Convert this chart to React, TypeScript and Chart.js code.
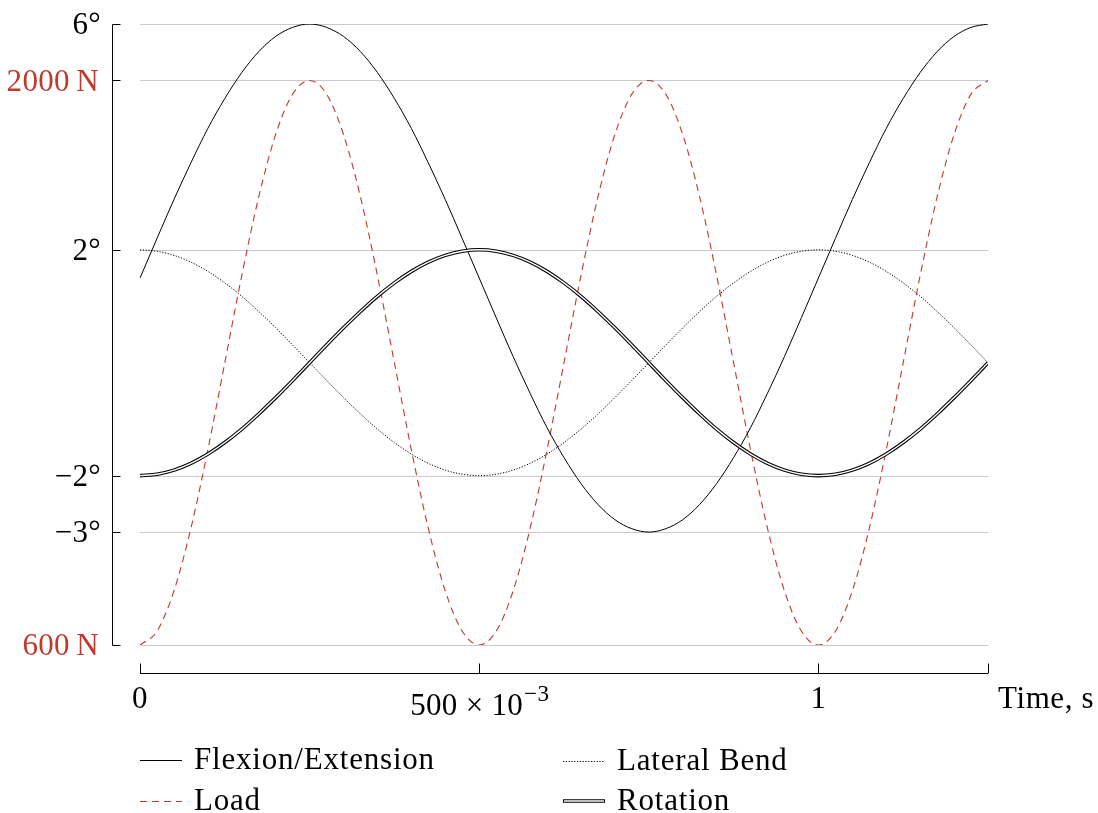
import React, { useEffect, useRef } from "react";
import { Chart, registerables } from "chart.js";
Chart.register(...registerables);

// ---- data ----
const timeS = [
  0, 0.025, 0.05, 0.075, 0.1, 0.125, 0.15, 0.175, 0.2, 0.225, 0.25,
  0.275, 0.3, 0.325, 0.35, 0.375, 0.4, 0.425, 0.45, 0.475, 0.5,
  0.525, 0.55, 0.575, 0.6, 0.625, 0.65, 0.675, 0.7, 0.725, 0.75,
  0.775, 0.8, 0.825, 0.85, 0.875, 0.9, 0.925, 0.95, 0.975, 1.0,
  1.025, 1.05, 1.075, 1.1, 1.125, 1.15, 1.175, 1.2, 1.225, 1.25,
];
const flexionDeg = [
  1.5, 2.2, 2.89, 3.54, 4.15, 4.68, 5.14, 5.51, 5.78, 5.94, 6.0,
  5.94, 5.78, 5.51, 5.14, 4.68, 4.15, 3.54, 2.89, 2.2, 1.5,
  0.8, 0.11, -0.54, -1.15, -1.68, -2.14, -2.51, -2.78, -2.94, -3.0,
  -2.94, -2.78, -2.51, -2.14, -1.68, -1.15, -0.54, 0.11, 0.8, 1.5,
  2.2, 2.89, 3.54, 4.15, 4.68, 5.14, 5.51, 5.78, 5.94, 6.0,
];
const lateralBendDeg = [
  2, 1.975, 1.902, 1.782, 1.618, 1.414, 1.176, 0.908, 0.618, 0.313, 0,
  -0.313, -0.618, -0.908, -1.176, -1.414, -1.618, -1.782, -1.902, -1.975, -2,
  -1.975, -1.902, -1.782, -1.618, -1.414, -1.176, -0.908, -0.618, -0.313, 0,
  0.313, 0.618, 0.908, 1.176, 1.414, 1.618, 1.782, 1.902, 1.975, 2,
  1.975, 1.902, 1.782, 1.618, 1.414, 1.176, 0.908, 0.618, 0.313, 0,
];
const rotationDeg = [
  -2, -1.975, -1.902, -1.782, -1.618, -1.414, -1.176, -0.908, -0.618, -0.313, 0,
  0.313, 0.618, 0.908, 1.176, 1.414, 1.618, 1.782, 1.902, 1.975, 2,
  1.975, 1.902, 1.782, 1.618, 1.414, 1.176, 0.908, 0.618, 0.313, 0,
  -0.313, -0.618, -0.908, -1.176, -1.414, -1.618, -1.782, -1.902, -1.975, -2,
  -1.975, -1.902, -1.782, -1.618, -1.414, -1.176, -0.908, -0.618, -0.313, 0,
];
const loadN = [
  600, 634, 734, 889, 1084, 1300, 1516, 1711, 1866, 1966, 2000,
  1966, 1866, 1711, 1516, 1300, 1084, 889, 734, 634, 600,
  634, 734, 889, 1084, 1300, 1516, 1711, 1866, 1966, 2000,
  1966, 1866, 1711, 1516, 1300, 1084, 889, 734, 634, 600,
  634, 734, 889, 1084, 1300, 1516, 1711, 1866, 1966, 2000,
];
const angleTicks = [6, 2, -2, -3];
const loadTicks = [2000, 600];
const timeTicks = [0, 0.5, 1, 1.25];
const timeTickLabels = ["0", "500×10^-3", "1", ""];
const seriesNames = ["Flexion/Extension", "Lateral Bend", "Load", "Rotation"];

const FONT = '"Liberation Serif", "Times New Roman", serif';
const RED = "#c0392b";
const GRID = "#cacaca";

const pts = (ys: number[]) => timeS.map((t, i) => ({ x: t, y: ys[i] }));

const decor = {
  id: "decor",
  beforeDatasetsDraw(chart: any) {
    const { ctx, chartArea: ca, scales } = chart;
    const xs = scales.x, ys = scales.y, y1 = scales.y1;
    ctx.save();
    // grid lines
    ctx.strokeStyle = GRID;
    ctx.lineWidth = 1;
    const gy = [
      ...angleTicks.map((v) => ys.getPixelForValue(v)),
      ...loadTicks.map((v) => y1.getPixelForValue(v)),
    ];
    for (const p of gy) {
      const yy = Math.round(p) + 0.5;
      ctx.beginPath();
      ctx.moveTo(ca.left, yy);
      ctx.lineTo(ca.right, yy);
      ctx.stroke();
    }
    // left axis
    const axX = ca.left - 27.5;
    ctx.strokeStyle = "#000";
    ctx.lineWidth = 1;
    ctx.beginPath();
    ctx.moveTo(axX, Math.round(ca.top) + 0.5);
    ctx.lineTo(axX, Math.round(ca.bottom) + 0.5);
    ctx.stroke();
    for (const p of gy) {
      const yy = Math.round(p) + 0.5;
      ctx.beginPath();
      ctx.moveTo(axX, yy);
      ctx.lineTo(axX + 8, yy);
      ctx.stroke();
    }
    // y labels
    ctx.font = `31px ${FONT}`;
    ctx.letterSpacing = "0.3px";
    ctx.textAlign = "right";
    ctx.textBaseline = "middle";
    ctx.fillStyle = "#000";
    for (const v of angleTicks) {
      const s = v < 0 ? "\u2212" + Math.abs(v) + "°" : v + "°";
      ctx.fillText(s, 101, ys.getPixelForValue(v) + 2);
    }
    ctx.fillStyle = RED;
    for (const v of loadTicks) {
      ctx.fillText(v + "\u2009N", 99, y1.getPixelForValue(v) + 2);
    }
    // x axis
    const axY = ca.bottom + 28.5;
    ctx.strokeStyle = "#000";
    ctx.beginPath();
    ctx.moveTo(ca.left, axY);
    ctx.lineTo(ca.right, axY);
    ctx.stroke();
    timeTicks.forEach((t) => {
      const xx = Math.round(xs.getPixelForValue(t)) + 0.5;
      ctx.beginPath();
      ctx.moveTo(xx, axY);
      ctx.lineTo(xx, axY - 10);
      ctx.stroke();
    });
    ctx.fillStyle = "#000";
    ctx.textBaseline = "middle";
    timeTicks.forEach((t, i) => {
      const lab = timeTickLabels[i];
      if (!lab) return;
      const xx = xs.getPixelForValue(t);
      if (lab.includes("^")) {
        const [base, sup] = lab.split("^");
        const baseTxt = base.replace("×", " × ");
        const supTxt = sup.replace("-", "\u2212");
        ctx.font = `31px ${FONT}`;
        const w1 = ctx.measureText(baseTxt).width;
        ctx.font = `23px ${FONT}`;
        const w2 = ctx.measureText(supTxt).width;
        const x0 = xx - (w1 + w2) / 2;
        ctx.textAlign = "left";
        ctx.font = `31px ${FONT}`;
        ctx.fillText(baseTxt, x0, axY + 33);
        ctx.font = `23px ${FONT}`;
        ctx.fillText(supTxt, x0 + w1 + 1, axY + 21);
      } else {
        ctx.font = `31px ${FONT}`;
        ctx.textAlign = "center";
        ctx.fillText(lab, xx, axY + 26);
      }
    });
    ctx.font = `31px ${FONT}`;
    ctx.letterSpacing = "0.6px";
    ctx.textAlign = "left";
    ctx.fillText("Time, s", ca.right + 10, axY + 26);
    ctx.restore();
  },
  afterDraw(chart: any) {
    const { ctx } = chart;
    ctx.save();
    ctx.font = `31px ${FONT}`;
    ctx.letterSpacing = "0.8px";
    ctx.textBaseline = "middle";
    ctx.textAlign = "left";
    ctx.fillStyle = "#000";
    const items = [
      { name: seriesNames[0], x: 140, y: 760, kind: "solid" },
      { name: seriesNames[1], x: 563, y: 761, kind: "dot" },
      { name: seriesNames[2], x: 140, y: 801, kind: "dash" },
      { name: seriesNames[3], x: 563, y: 801, kind: "double" },
    ];
    for (const it of items) {
      const L = 42;
      ctx.beginPath();
      ctx.setLineDash([]);
      if (it.kind === "solid") {
        ctx.strokeStyle = "#000";
        ctx.lineWidth = 1;
        ctx.moveTo(it.x, it.y + 0.5);
        ctx.lineTo(it.x + L, it.y + 0.5);
        ctx.stroke();
      } else if (it.kind === "dot") {
        ctx.strokeStyle = "#000";
        ctx.lineWidth = 1;
        ctx.setLineDash([1.2, 1.6]);
        ctx.moveTo(it.x, it.y + 0.5);
        ctx.lineTo(it.x + L, it.y + 0.5);
        ctx.stroke();
      } else if (it.kind === "dash") {
        ctx.strokeStyle = RED;
        ctx.lineWidth = 1.2;
        ctx.setLineDash([7, 5]);
        ctx.moveTo(it.x, it.y + 0.5);
        ctx.lineTo(it.x + L, it.y + 0.5);
        ctx.stroke();
      } else {
        ctx.strokeStyle = "#000";
        ctx.lineWidth = 3.6;
        ctx.moveTo(it.x, it.y);
        ctx.lineTo(it.x + L, it.y);
        ctx.stroke();
        ctx.beginPath();
        ctx.strokeStyle = "#fff";
        ctx.lineWidth = 1.4;
        ctx.moveTo(it.x + 1, it.y);
        ctx.lineTo(it.x + L - 1, it.y);
        ctx.stroke();
      }
      ctx.setLineDash([]);
      ctx.fillStyle = "#000";
      ctx.fillText(it.name, it.x + 54, it.y + 1);
    }
    ctx.restore();
  },
};

export default function App() {
  const ref = useRef<HTMLCanvasElement | null>(null);
  useEffect(() => {
    if (!ref.current) return;
    const common = {
      pointRadius: 0,
      cubicInterpolationMode: "monotone" as const,
      fill: false,
    };
    const chart = new Chart(ref.current, {
      type: "line",
      data: {
        datasets: [
          {
            ...common,
            label: "Rotation inner",
            data: pts(rotationDeg),
            yAxisID: "y",
            borderColor: "#fff",
            borderWidth: 1.4,
            order: 0,
          },
          {
            ...common,
            label: seriesNames[3],
            data: pts(rotationDeg),
            yAxisID: "y",
            borderColor: "#000",
            borderWidth: 3.6,
            order: 1,
          },
          {
            ...common,
            label: seriesNames[0],
            data: pts(flexionDeg),
            yAxisID: "y",
            borderColor: "#000",
            borderWidth: 1,
            order: 2,
          },
          {
            ...common,
            label: seriesNames[1],
            data: pts(lateralBendDeg),
            yAxisID: "y",
            borderColor: "#000",
            borderWidth: 1,
            borderDash: [1.2, 1.6],
            order: 3,
          },
          {
            ...common,
            label: seriesNames[2],
            data: pts(loadN),
            yAxisID: "y1",
            borderColor: RED,
            borderWidth: 1.1,
            borderDash: [7, 5],
            order: 4,
          },
        ],
      },
      options: {
        responsive: false,
        animation: false,
        layout: { padding: { left: 140, right: 110, top: 24, bottom: 168 } },
        plugins: { legend: { display: false }, tooltip: { enabled: false } },
        scales: {
          x: { type: "linear", min: 0, max: 1.25, display: false },
          y: { type: "linear", min: -5, max: 6, display: false },
          y1: { type: "linear", min: 600, max: 2140, display: false },
        },
      },
      plugins: [decor],
    });
    return () => chart.destroy();
  }, []);
  return (
    <div style={{ position: "absolute", left: 0, top: 0, width: 1098, height: 813, background: "#fff" }}>
      <canvas ref={ref} width={1098} height={813} style={{ width: 1098, height: 813 }} />
    </div>
  );
}
